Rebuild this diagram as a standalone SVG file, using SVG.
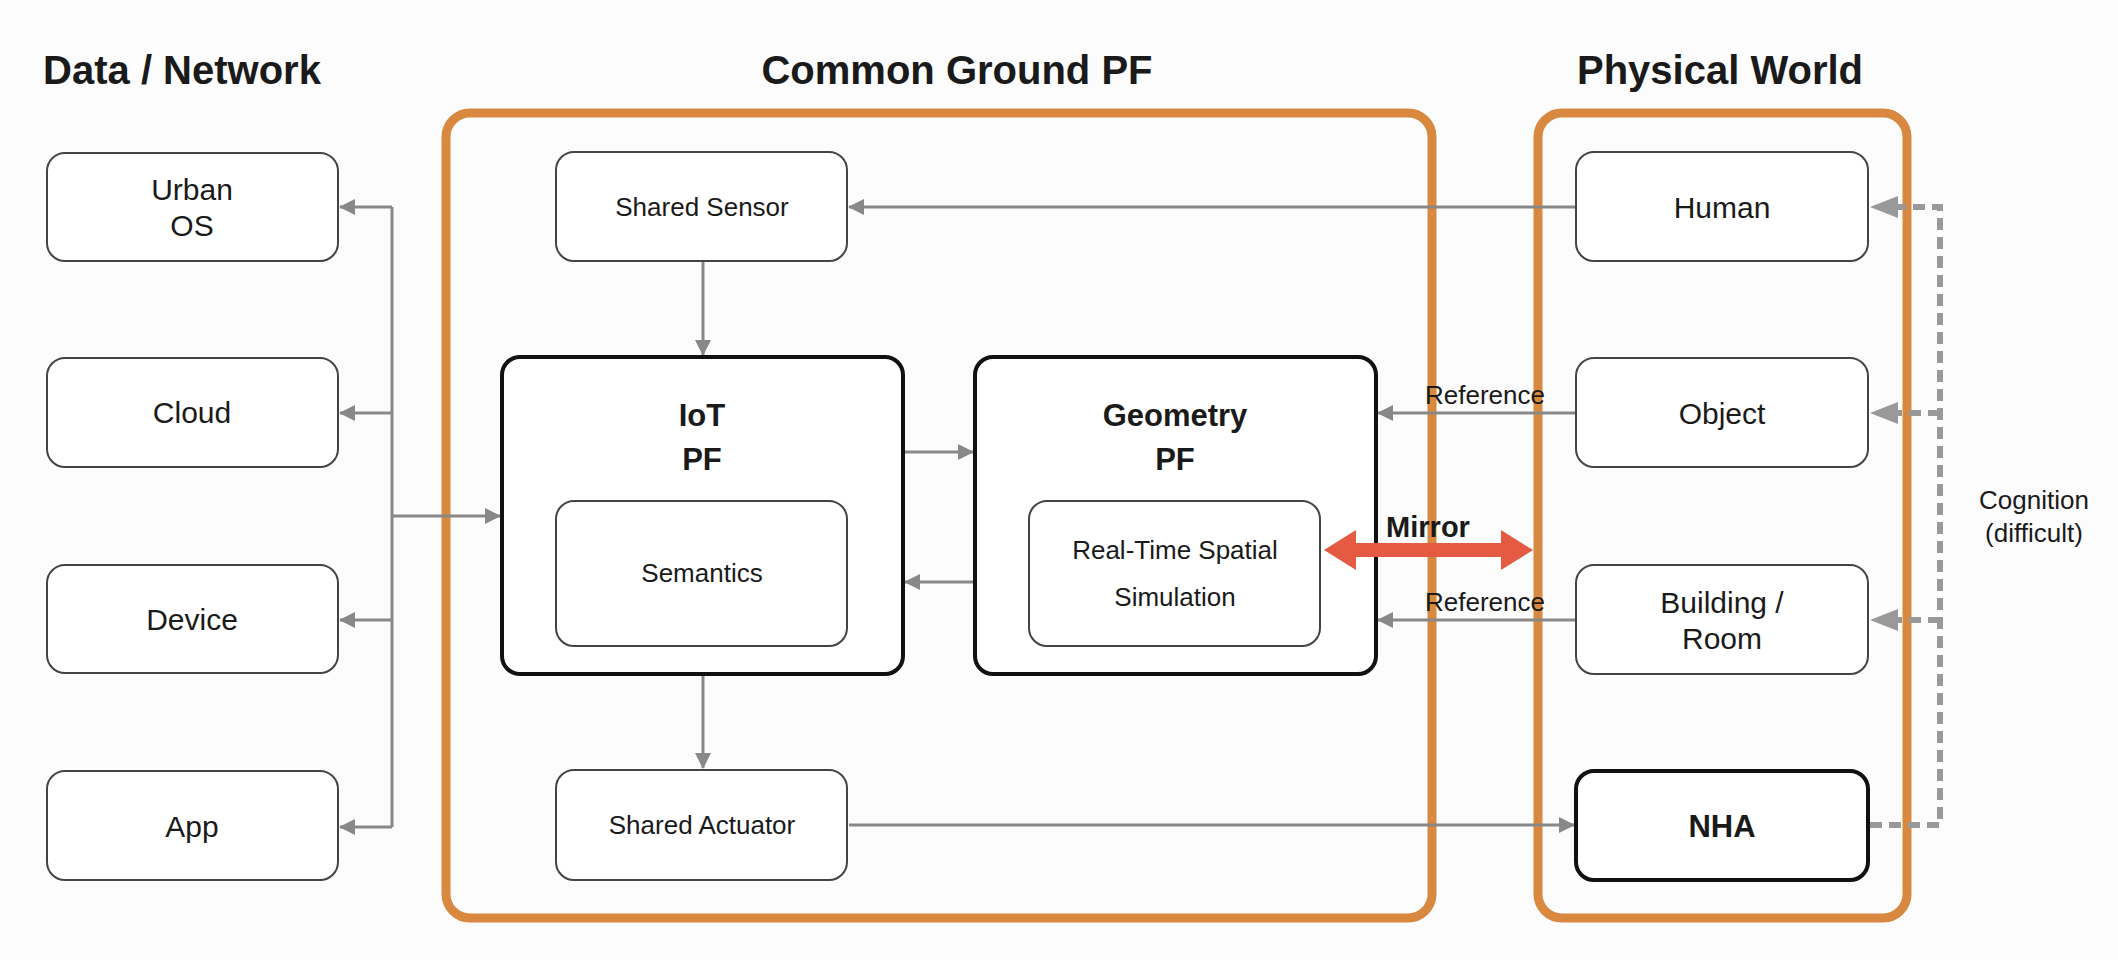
<svg xmlns="http://www.w3.org/2000/svg" width="2118" height="960" viewBox="0 0 2118 960">
<style>
text{font-family:"Liberation Sans",Arial,sans-serif;fill:#1a1a1a;text-anchor:middle}
.t{font-size:40px;font-weight:bold}
.n{fill:#fff;stroke:#444;stroke-width:2}
.k{fill:#fff;stroke:#111;stroke-width:4}
.l{font-size:30px}
.s{font-size:26px}
.b{font-size:31px;font-weight:bold}
.c{fill:none;stroke:#888;stroke-width:3}
.d{fill:none;stroke:#999;stroke-width:6;stroke-dasharray:12 7}
.g{fill:none;stroke:#D9883F;stroke-width:9}
.r{font-size:26px}
</style>
<defs>
<marker id="a2" viewBox="0 0 16 16" refX="15" refY="8" markerWidth="16" markerHeight="16" orient="auto" markerUnits="userSpaceOnUse"><path d="M0,0L16,8L0,16z" fill="#888"/></marker>
</defs>
<rect width="2118" height="960" fill="#fcfcfc"/>
<text class="t" x="182" y="84">Data / Network</text>
<text class="t" x="957" y="84">Common Ground PF</text>
<text class="t" x="1720" y="84">Physical World</text>
<rect class="g" x="446" y="113" width="986" height="805" rx="24"/>
<rect class="g" x="1538" y="113" width="369" height="805" rx="24"/>
<g id="connectors">
<path class="c" d="M392,207V827"/>
<path class="c" marker-end="url(#a2)" d="M392,207H340"/>
<path class="c" marker-end="url(#a2)" d="M392,413H340"/>
<path class="c" marker-end="url(#a2)" d="M392,620H340"/>
<path class="c" marker-end="url(#a2)" d="M392,827H340"/>
<path class="c" marker-end="url(#a2)" d="M392,516H500"/>
<path class="c" marker-end="url(#a2)" d="M1576,207H849"/>
<path class="c" marker-end="url(#a2)" d="M703,261V355"/>
<path class="c" marker-end="url(#a2)" d="M703,676V768"/>
<path class="c" marker-end="url(#a2)" d="M905,452H973"/>
<path class="c" marker-end="url(#a2)" d="M975,582H905"/>
<path class="c" marker-end="url(#a2)" d="M1576,413H1378"/>
<path class="c" marker-end="url(#a2)" d="M1576,620H1378"/>
<path class="c" marker-end="url(#a2)" d="M849,825H1574"/>
<path class="d" d="M1870,825H1940V207H1895"/>
<path class="d" d="M1940,413H1895"/>
<path class="d" d="M1940,620H1895"/>
<path d="M1870,207l28,-11v22z M1870,413l28,-11v22z M1870,620l28,-11v22z" fill="#999"/>
<text class="r" x="1485" y="404">Reference</text>
<text class="r" x="1485" y="611">Reference</text>
<text class="r" x="2034" y="509">Cognition</text>
<text class="r" x="2034" y="542">(difficult)</text>
</g>
<g id="urban"><rect class="n" x="47" y="153" width="291" height="108" rx="18"/><text class="l" x="192" y="200">Urban</text><text class="l" x="192" y="236">OS</text></g>
<g id="cloud"><rect class="n" x="47" y="358" width="291" height="109" rx="18"/><text class="l" x="192" y="423">Cloud</text></g>
<g id="device"><rect class="n" x="47" y="565" width="291" height="108" rx="18"/><text class="l" x="192" y="630">Device</text></g>
<g id="app"><rect class="n" x="47" y="771" width="291" height="109" rx="18"/><text class="l" x="192" y="837">App</text></g>
<g id="sensor"><rect class="n" x="556" y="152" width="291" height="109" rx="18"/><text class="s" x="702" y="216">Shared Sensor</text></g>
<g id="actuator"><rect class="n" x="556" y="770" width="291" height="110" rx="18"/><text class="s" x="702" y="834">Shared Actuator</text></g>
<g id="iot"><rect class="k" x="502" y="357" width="401" height="317" rx="18"/><text class="b" x="702" y="426">IoT</text><text class="b" x="702" y="470">PF</text>
<rect class="n" x="556" y="501" width="291" height="145" rx="18"/><text class="s" x="702" y="582">Semantics</text></g>
<g id="geometry"><rect class="k" x="975" y="357" width="401" height="317" rx="18"/><text class="b" x="1175" y="426">Geometry</text><text class="b" x="1175" y="470">PF</text>
<rect class="n" x="1029" y="501" width="291" height="145" rx="18"/><text class="s" x="1175" y="559">Real-Time Spatial</text><text class="s" x="1175" y="606">Simulation</text></g>
<g id="human"><rect class="n" x="1576" y="152" width="292" height="109" rx="18"/><text class="l" x="1722" y="218">Human</text></g>
<g id="object"><rect class="n" x="1576" y="358" width="292" height="109" rx="18"/><text class="l" x="1722" y="424">Object</text></g>
<g id="building"><rect class="n" x="1576" y="565" width="292" height="109" rx="18"/><text class="l" x="1722" y="613">Building /</text><text class="l" x="1722" y="649">Room</text></g>
<g id="nha"><rect class="k" x="1576" y="771" width="292" height="109" rx="18"/><text class="b" x="1722" y="837">NHA</text></g>
<g id="mirror">
<path d="M1324,550l32,-20v13h145v-13l32,20l-32,20v-13h-145v13z" fill="#E45A43"/>
<text x="1428" y="537" style="font-size:29px;font-weight:bold">Mirror</text>
</g>
</svg>
